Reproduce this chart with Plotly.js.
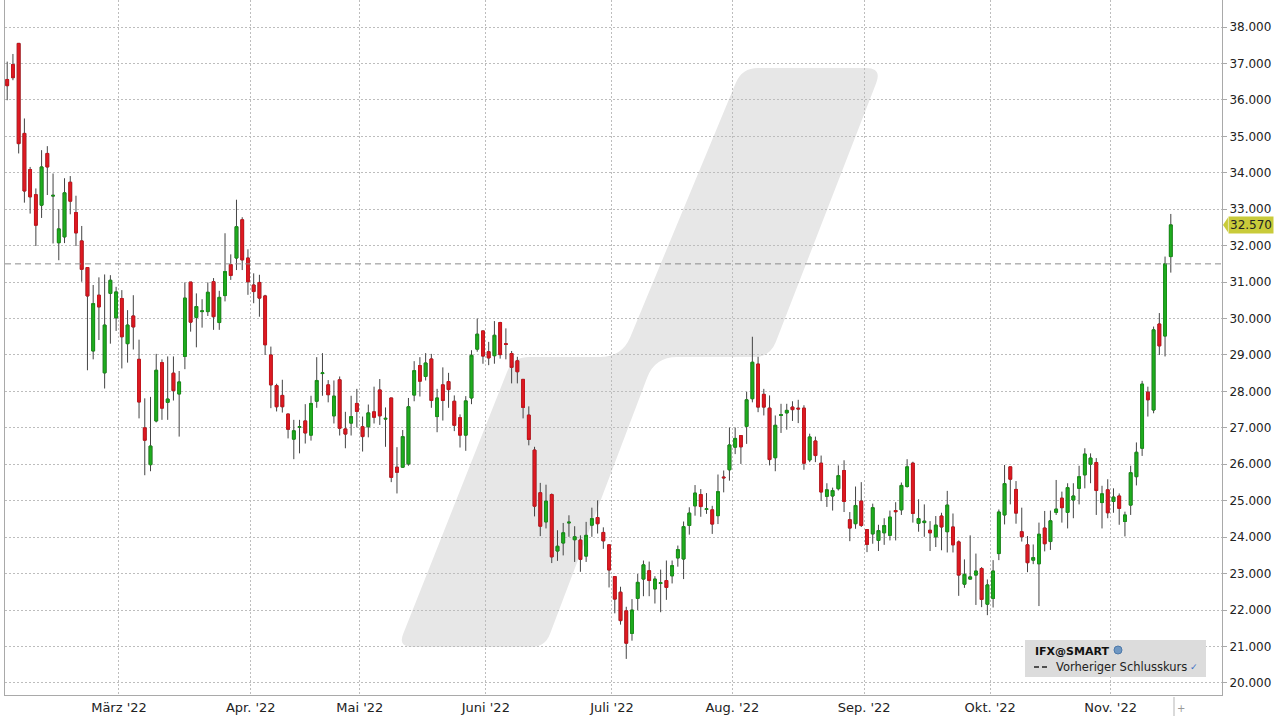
<!DOCTYPE html>
<html><head><meta charset="utf-8">
<script src="https://cdn.plot.ly/plotly-3.0.1.min.js"></script>
<style>html,body{margin:0;padding:0;background:#fff;}#chart{width:1280px;height:720px;}</style>
</head><body><div id="chart"></div>
<script>
const dates = [
"2022-02-01","2022-02-02","2022-02-03","2022-02-04","2022-02-07","2022-02-08","2022-02-09","2022-02-10","2022-02-11","2022-02-14","2022-02-15","2022-02-16","2022-02-17","2022-02-18","2022-02-21","2022-02-22","2022-02-23","2022-02-24","2022-02-25","2022-02-28",
"2022-03-01","2022-03-02","2022-03-03","2022-03-04","2022-03-07","2022-03-08","2022-03-09","2022-03-10","2022-03-11","2022-03-14","2022-03-15","2022-03-16","2022-03-17","2022-03-18","2022-03-21","2022-03-22","2022-03-23","2022-03-24","2022-03-25","2022-03-28","2022-03-29","2022-03-30","2022-03-31",
"2022-04-01","2022-04-04","2022-04-05","2022-04-06","2022-04-07","2022-04-08","2022-04-11","2022-04-12","2022-04-13","2022-04-14","2022-04-19","2022-04-20","2022-04-21","2022-04-22","2022-04-25","2022-04-26","2022-04-27","2022-04-28","2022-04-29",
"2022-05-02","2022-05-03","2022-05-04","2022-05-05","2022-05-06","2022-05-09","2022-05-10","2022-05-11","2022-05-12","2022-05-13","2022-05-16","2022-05-17","2022-05-18","2022-05-19","2022-05-20","2022-05-23","2022-05-24","2022-05-25","2022-05-26","2022-05-27","2022-05-30","2022-05-31",
"2022-06-01","2022-06-02","2022-06-03","2022-06-06","2022-06-07","2022-06-08","2022-06-09","2022-06-10","2022-06-13","2022-06-14","2022-06-15","2022-06-16","2022-06-17","2022-06-20","2022-06-21","2022-06-22","2022-06-23","2022-06-24","2022-06-27","2022-06-28","2022-06-29","2022-06-30",
"2022-07-01","2022-07-04","2022-07-05","2022-07-06","2022-07-07","2022-07-08","2022-07-11","2022-07-12","2022-07-13","2022-07-14","2022-07-15","2022-07-18","2022-07-19","2022-07-20","2022-07-21","2022-07-22","2022-07-25","2022-07-26","2022-07-27","2022-07-28","2022-07-29",
"2022-08-01","2022-08-02","2022-08-03","2022-08-04","2022-08-05","2022-08-08","2022-08-09","2022-08-10","2022-08-11","2022-08-12","2022-08-15","2022-08-16","2022-08-17","2022-08-18","2022-08-19","2022-08-22","2022-08-23","2022-08-24","2022-08-25","2022-08-26","2022-08-29","2022-08-30","2022-08-31",
"2022-09-01","2022-09-02","2022-09-05","2022-09-06","2022-09-07","2022-09-08","2022-09-09","2022-09-12","2022-09-13","2022-09-14","2022-09-15","2022-09-16","2022-09-19","2022-09-20","2022-09-21","2022-09-22","2022-09-23","2022-09-26","2022-09-27","2022-09-28","2022-09-29","2022-09-30",
"2022-10-03","2022-10-04","2022-10-05","2022-10-06","2022-10-07","2022-10-10","2022-10-11","2022-10-12","2022-10-13","2022-10-14","2022-10-17","2022-10-18","2022-10-19","2022-10-20","2022-10-21","2022-10-24","2022-10-25","2022-10-26","2022-10-27","2022-10-28","2022-10-31",
"2022-11-01","2022-11-02","2022-11-03","2022-11-04","2022-11-07","2022-11-08","2022-11-09","2022-11-10","2022-11-11","2022-11-14","2022-11-15"
];
const openP = [
36.56,36.97,37.55,35.08,34.09,33.40,33.11,34.53,33.36,32.08,
32.24,33.74,32.91,32.13,31.40,29.11,30.64,28.51,30.69,30.02,
30.55,29.31,30.07,28.88,27.00,25.99,27.19,28.79,27.70,28.50,
27.93,28.96,31.00,30.03,30.19,30.19,31.01,29.89,30.63,31.48,
31.66,32.71,31.66,30.92,30.99,30.62,29.00,28.16,27.89,27.38,
26.69,27.02,27.19,26.80,27.73,28.49,28.18,27.33,28.32,26.97,
27.13,27.67,27.03,27.03,27.44,28.04,27.24,27.82,25.92,25.92,
26.01,27.90,28.71,28.41,28.89,27.31,28.18,28.27,27.73,27.28,
26.80,27.82,29.16,29.66,29.09,28.98,29.89,29.31,29.04,28.84,
28.33,27.35,26.39,25.22,24.42,25.17,23.62,23.84,24.39,23.93,
23.92,23.48,24.33,24.54,24.13,23.79,22.92,22.49,21.98,21.36,
22.32,22.85,23.08,22.58,22.73,22.81,22.94,23.43,23.40,24.32,
24.86,25.17,24.76,24.75,24.59,25.65,25.85,26.47,26.79,27.04,
27.80,28.75,27.92,27.54,26.18,27.34,27.41,27.57,27.54,27.54,
26.12,26.64,26.03,25.12,25.13,25.33,25.83,24.48,24.37,24.99,
24.21,24.09,23.91,24.12,24.05,24.73,24.75,25.39,26.03,24.38,
24.40,24.19,24.01,24.58,24.15,24.28,23.87,22.71,22.85,22.96,
23.14,22.16,22.32,23.55,24.61,25.93,25.31,24.15,23.79,23.37,
23.27,24.25,23.88,24.68,25.07,24.68,25.02,25.34,25.71,26.00,
26.05,24.95,25.30,24.98,25.13,24.43,24.88,25.66,26.44,27.98,
27.49,29.85,29.52,31.70
];
const highP = [
37.05,37.26,37.55,35.49,34.16,33.57,34.62,34.73,33.98,33.00,
33.85,33.91,33.37,32.54,31.40,30.92,31.13,31.21,31.19,30.87,
30.78,30.23,30.64,29.42,27.81,27.85,29.03,28.88,28.96,28.96,
28.56,30.99,31.00,30.69,30.53,30.99,31.11,30.76,32.34,31.76,
33.26,32.78,31.90,31.24,31.20,30.65,29.23,28.21,28.32,27.38,
27.22,27.22,27.65,27.88,28.94,29.05,28.31,28.30,28.41,27.44,
27.88,28.07,27.31,27.64,28.13,28.34,27.56,27.82,26.47,26.94,
27.82,28.83,28.94,29.05,29.03,28.07,28.66,28.51,27.89,27.37,
27.87,29.13,30.00,29.66,29.36,29.93,29.91,29.73,29.11,28.95,
28.33,27.59,26.48,25.49,25.44,25.20,24.19,24.39,24.60,24.30,
24.05,24.42,24.81,25.01,24.27,23.79,22.92,22.64,22.09,22.30,
22.99,23.36,23.33,22.93,23.11,23.36,23.36,23.77,24.43,24.82,
25.43,25.32,25.21,24.86,25.72,25.83,27.01,27.01,26.79,27.99,
29.50,28.95,28.07,27.89,27.34,27.66,27.66,27.73,27.77,27.62,
26.84,26.76,26.24,25.48,25.36,25.97,26.11,24.69,25.39,25.51,
24.21,24.92,24.34,24.52,24.73,24.96,25.50,26.14,26.07,25.04,
24.90,24.44,24.58,24.67,25.27,24.65,23.91,23.39,24.05,23.55,
23.18,22.84,23.37,24.76,25.98,25.93,25.54,24.81,24.03,23.80,
24.40,24.72,24.73,25.57,25.25,25.48,25.48,25.96,26.44,26.30,
26.17,25.41,25.59,25.34,25.20,24.70,25.96,26.60,28.29,28.13,
29.78,30.15,31.70,32.87
];
const lowP = [
35.99,36.54,34.53,33.18,32.88,31.99,32.76,33.39,32.06,31.60,
32.07,32.86,31.99,31.01,28.58,28.88,29.41,28.08,29.31,29.66,
28.63,28.79,29.15,27.26,25.70,25.81,27.15,27.22,27.22,27.75,
26.76,28.61,29.64,29.21,29.75,30.07,29.69,29.69,30.47,31.06,
31.33,31.33,30.65,30.42,30.05,29.00,27.54,27.45,27.42,26.71,
26.14,26.30,26.57,26.65,27.55,27.88,27.70,27.12,26.79,26.44,
26.79,27.01,26.35,26.74,27.12,27.08,26.48,25.51,25.20,25.90,
25.96,27.73,27.86,28.30,27.55,26.88,27.20,27.55,26.91,26.46,
26.37,27.65,29.09,28.76,28.72,28.76,28.90,28.88,28.22,28.22,
27.26,26.52,24.57,24.03,24.24,23.29,23.35,23.50,24.01,23.32,
23.05,23.32,24.01,24.10,23.68,22.62,21.91,21.60,20.66,21.16,
22.00,22.38,22.38,22.18,21.94,22.28,22.73,23.19,22.85,24.07,
24.59,24.56,24.64,24.09,24.36,25.23,25.55,26.28,26.01,26.56,
27.70,27.43,27.34,25.97,25.81,26.86,26.95,27.19,27.13,25.85,
26.06,26.06,24.99,24.83,24.73,25.28,24.69,23.89,24.23,24.28,
23.59,23.82,23.62,23.79,23.91,23.91,24.61,25.36,24.40,24.15,
24.01,23.62,23.73,23.64,23.58,23.58,22.39,22.61,22.84,22.14,
22.08,21.86,22.07,23.37,24.35,24.90,24.37,23.88,23.04,23.26,
22.11,23.61,23.65,24.61,24.40,24.24,24.52,24.90,25.34,25.48,
24.61,24.24,24.52,24.67,24.34,24.02,24.61,25.42,26.23,27.31,
27.40,29.00,28.96,31.26
];
const closeP = [
36.39,36.61,34.80,33.50,33.34,32.56,34.16,34.16,33.38,32.46,
33.45,33.22,32.35,31.35,30.62,30.41,30.32,29.82,31.05,30.73,
29.50,29.82,29.77,27.71,26.66,26.50,28.58,27.54,27.79,28.02,
28.26,30.56,29.90,30.33,30.21,30.72,30.05,30.58,31.29,31.18,
32.52,31.61,31.01,30.74,30.56,29.28,28.18,27.58,27.58,26.96,
26.92,27.03,26.86,27.67,28.30,28.51,27.91,27.87,26.99,26.83,
27.31,27.45,26.76,27.41,27.29,27.33,27.26,25.64,25.78,26.76,
27.58,28.57,28.28,28.78,27.75,27.82,27.75,28.05,27.07,26.80,
27.74,28.99,29.57,28.97,28.92,29.54,29.01,29.29,28.66,28.54,
27.56,26.68,24.85,24.30,24.99,23.46,23.75,24.12,24.41,24.01,
23.39,24.05,24.51,24.37,23.90,23.10,22.30,21.71,21.09,22.00,
22.76,23.24,22.81,22.85,22.75,22.62,23.22,23.66,24.29,24.66,
25.21,24.84,24.78,24.36,25.25,25.63,26.53,26.71,26.48,27.77,
28.80,27.57,27.57,26.13,27.07,27.36,27.48,27.50,27.52,26.03,
26.75,26.24,25.24,25.30,25.28,25.69,24.98,24.25,24.87,24.32,
23.80,24.81,24.18,24.32,24.55,24.70,25.42,25.93,24.65,24.51,
24.44,24.12,24.33,24.28,24.88,23.79,22.96,22.98,22.91,23.07,
22.29,22.69,23.07,24.69,25.47,25.59,24.66,24.01,23.30,23.44,
24.08,23.82,24.45,24.77,24.81,25.36,25.13,25.66,26.28,26.17,
25.28,25.19,24.67,25.10,24.79,24.61,25.77,26.33,28.20,27.77,
29.69,29.25,31.50,32.57
];
const monthLabels = ["März '22","Apr. '22","Mai '22","Juni '22","Juli '22","Aug. '22","Sep. '22","Okt. '22","Nov. '22"];
const symbolName = "IFX@SMART";
const prevCloseName = "Vorheriger Schlusskurs";

// month boundaries (gridlines sit between the last and first trading day)
const tickvals = [];
for (let i = 1; i < dates.length; i++) {
  if (dates[i].slice(0,7) !== dates[i-1].slice(0,7)) tickvals.push(i - 0.5);
}
const bodyHigh = openP.map((o,i)=>Math.max(o, closeP[i]));
const bodyLow  = openP.map((o,i)=>Math.min(o, closeP[i]));
const lastClose = closeP[closeP.length-1];
const prevClose = closeP[closeP.length-2];

// pixel helpers for decoration (plot area: x 5..1222, y 0..695)
const PL=5, PR=1222, PT=0, PB=695;
const px = x => (x-PL)/(PR-PL);
const py = y => (PB-y)/(PB-PT);
const P = (x,y) => px(x).toFixed(5)+','+py(y).toFixed(5);

// rounded polygon for the background logo
function roundedPath(pts) {
  const n = pts.length;
  let d = '';
  for (let i = 0; i < n; i++) {
    const [x,y,r] = pts[i];
    const [xp,yp] = pts[(i-1+n)%n];
    const [xn,yn] = pts[(i+1)%n];
    const l1 = Math.hypot(xp-x, yp-y), l2 = Math.hypot(xn-x, yn-y);
    const ax = x + (xp-x)*r/l1, ay = y + (yp-y)*r/l1;
    const bx = x + (xn-x)*r/l2, by = y + (yn-y)*r/l2;
    d += (i===0 ? 'M ' : ' L ') + P(ax,ay) + ' Q ' + P(x,y) + ' ' + P(bx,by);
  }
  return d + ' Z';
}
const logoPath = roundedPath([
  [742,68,16],[882,68,16],[770,357,16],[655,357,22],[545,647,14],[398,647,14],[513,357,16],[622,357,22]
]);

const wickTrace = {
  type:'candlestick', x:dates, open:openP, high:highP, low:lowP, close:closeP,
  increasing:{line:{color:'#444444',width:1}, fillcolor:'rgba(0,0,0,0)'},
  decreasing:{line:{color:'#444444',width:1}, fillcolor:'rgba(0,0,0,0)'},
  hoverinfo:'skip', showlegend:false
};
const bodyTrace = {
  type:'candlestick', x:dates, open:openP, high:bodyHigh, low:bodyLow, close:closeP,
  increasing:{line:{color:'#179317',width:1}, fillcolor:'#1fad1f'},
  decreasing:{line:{color:'#c9141c',width:1}, fillcolor:'#de1a22'},
  hoverinfo:'skip', showlegend:false
};

const shapes = [
  {type:'path', xref:'paper', yref:'paper', path:logoPath, fillcolor:'#e7e7e7', line:{width:0}, layer:'below'},
  {type:'line', xref:'paper', yref:'y', x0:0, x1:1, y0:prevClose, y1:prevClose, line:{color:'#8c8c8c', width:1, dash:'6px,4px'}, layer:'above'},
  {type:'path', xref:'paper', yref:'y', path:'M 1.0008,'+lastClose+' L '+px(1228).toFixed(4)+','+(lastClose+0.2)+' L '+px(1228).toFixed(4)+','+(lastClose-0.2)+' Z', fillcolor:'#c9cb3a', line:{width:0}},
  {type:'rect', xref:'paper', yref:'paper', x0:px(1025), x1:px(1206), y0:py(677), y1:py(640), fillcolor:'#dcdcdc', line:{width:0}, layer:'above'},
  {type:'line', xref:'paper', yref:'paper', x0:px(1034), x1:px(1050), y0:py(667), y1:py(667), line:{color:'#222', width:1.5, dash:'5px,3px'}},
  {type:'circle', xref:'paper', yref:'paper', x0:px(1114), x1:px(1122), y0:py(654), y1:py(646), fillcolor:'#6f97c2', line:{color:'#4d79aa', width:1}},
  {type:'line', xref:'paper', yref:'paper', x0:px(1174), x1:px(1174), y0:py(697), y1:py(716), line:{color:'#b5b5b5', width:1}}
];

const annotations = [
  {xref:'paper', yref:'y', x:1, xshift:6, y:lastClose, xanchor:'left', yanchor:'middle', text:lastClose.toFixed(3), showarrow:false,
   bgcolor:'#c9cb3a', borderpad:1, font:{family:'DejaVu Sans', size:12, color:'#222'}},
  {xref:'paper', yref:'paper', x:px(1033), y:py(651), xanchor:'left', yanchor:'middle', text:'<b>'+symbolName+'</b>', showarrow:false,
   font:{family:'DejaVu Sans', size:11, color:'#111'}},
  {xref:'paper', yref:'paper', x:px(1054), y:py(667), xanchor:'left', yanchor:'middle', text:prevCloseName, showarrow:false,
   font:{family:'DejaVu Sans', size:11.5, color:'#222'}},
  {xref:'paper', yref:'paper', x:px(1194), y:py(667), xanchor:'center', yanchor:'middle', text:'✓', showarrow:false,
   font:{family:'DejaVu Sans', size:9, color:'#3a6fc4'}},
  {xref:'paper', yref:'paper', x:px(1181), y:py(708), xanchor:'center', yanchor:'middle', text:'+', showarrow:false,
   font:{family:'DejaVu Sans', size:10, color:'#999'}}
];

const layout = {
  width:1280, height:720,
  margin:{l:PL, r:1280-PR, t:PT, b:720-PB, pad:0},
  paper_bgcolor:'#ffffff', plot_bgcolor:'rgba(0,0,0,0)',
  showlegend:false, hovermode:false, dragmode:false,
  xaxis:{
    type:'category', range:[(PL-7.2)/5.732, (PR-7.2)/5.732],
    rangeslider:{visible:false},
    tickmode:'array', tickvals:tickvals, ticktext:monthLabels,
    showgrid:true, gridcolor:'#bdbdbd', griddash:'2px,2px', gridwidth:1,
    showline:true, linecolor:'#a9a9a9', linewidth:1, ticks:'',
    tickfont:{family:'DejaVu Sans', size:13, color:'#222'},
    zeroline:false, fixedrange:true
  },
  yaxis:{
    side:'right', range:[19.669, 38.741],
    tickmode:'linear', tick0:20, dtick:1, tickformat:'.3f',
    showgrid:true, gridcolor:'#bdbdbd', griddash:'2px,2px', gridwidth:1,
    showline:true, mirror:true, linecolor:'#a9a9a9', linewidth:1,
    ticks:'outside', ticklen:4, tickcolor:'#a9a9a9',
    tickfont:{family:'DejaVu Sans', size:12, color:'#222'},
    zeroline:false, fixedrange:true
  },
  shapes:shapes, annotations:annotations
};

Plotly.newPlot('chart', [wickTrace, bodyTrace], layout, {displayModeBar:false, staticPlot:true});
</script>
</body></html>
